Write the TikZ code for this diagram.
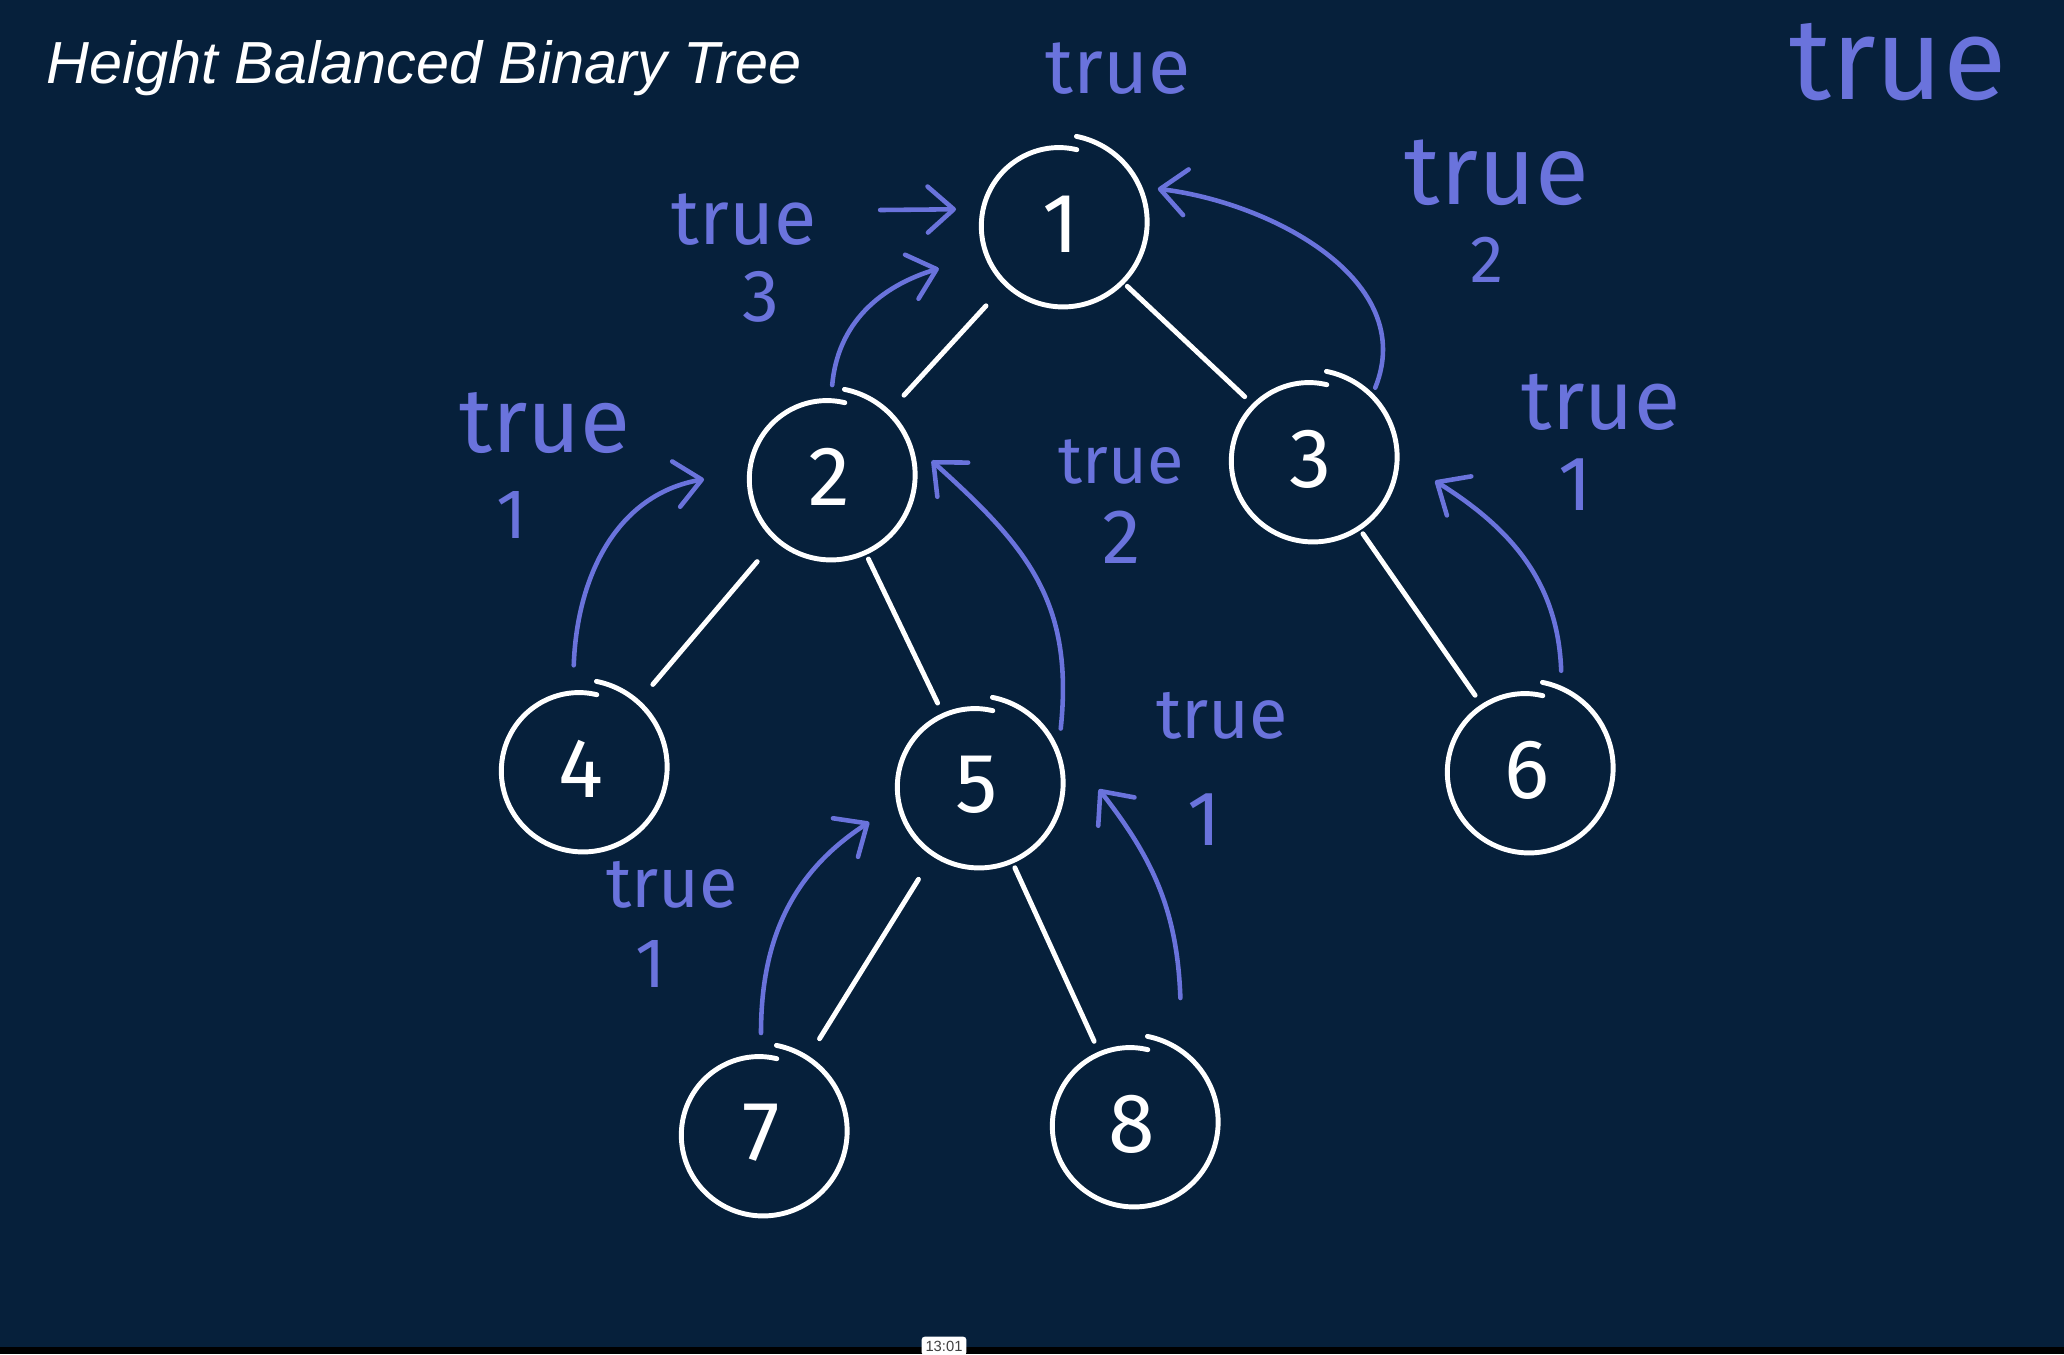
\documentclass[tikz,border=0pt]{standalone}
\usepackage{fontspec}
\setmainfont{Liberation Sans}
\newfontfamily\penfont{Fira Sans}
\usetikzlibrary{arrows.meta, positioning, calc}
\definecolor{bgnavy}{RGB}{6,32,59}
\definecolor{penblue}{RGB}{106,115,220}
\newcommand{\pensize}[1]{\penfont\fontsize{#1}{#1}\selectfont}

\begin{document}
\begin{tikzpicture}[x=0.1mm, y=-0.1mm,
  vertex/.style={circle, minimum size=16.8mm, inner sep=0pt, outer sep=0pt,
    text=white, font=\pensize{24}},
  ring/.style={draw=white, line width=1.4pt, line cap=round, line join=round},
  branch/.style={draw=white, line width=1.4pt, line cap=round,
    shorten <=0.7mm, shorten >=0.7mm},
  far/.style={shorten <=2.7mm, shorten >=2.7mm},
  retval/.style={draw=penblue, line width=1.3pt, line cap=round,
    -{Straight Barb[length=2.6mm, width=4.6mm, round]}},
  inked/.style={text=penblue, inner sep=0pt, font=\pensize{#1}},
  heading/.style={text=white, inner sep=0pt, font=\itshape\fontsize{16.9}{20}\selectfont},
  stamp/.style={fill=white, rounded corners=1pt, text=black!75, inner sep=0.4mm,
    minimum width=4.1mm, minimum height=1.9mm, font=\fontsize{4.2}{5}\selectfont}]
  \fill[bgnavy] (0,0) rectangle (2064,1354);
  \fill[black] (0,1347) rectangle (2064,1354);
  \useasboundingbox (0,0) rectangle (2064,1354);
  \node[stamp] (clock) at (944,1346) {13:01};
  \node[heading, anchor=base west] (title) at (46,83) {Height Balanced Binary Tree};

  \node[vertex] (n1) at (1061,224) {1};
  \node[vertex] (n2) at (829,477)  {2};
  \node[vertex] (n3) at (1311,459) {3};
  \node[vertex] (n4) at (581,769)  {4};
  \node[vertex] (n5) at (977,785)  {5};
  \node[vertex] (n6) at (1527,770) {6};
  \node[vertex] (n7) at (761,1133) {7};
  \node[vertex] (n8) at (1132,1124) {8};
  \foreach \v in {1,...,8}
    \draw[ring, shift={(n\v.center)}]
      plot[smooth, samples=80, domain=80:-282] (\x:{(89-13*(80-\x)/362)*0.1mm});

  \draw[branch, far] (n1) -- (n2);
  \draw[branch] (n1) -- (n3);
  \draw[branch, far] (n2) -- (n4);
  \draw[branch] (n2) -- (n5);
  \draw[branch] (n3) -- (n6);
  \draw[branch, far] (n5) -- (n7);
  \draw[branch] (n5) -- (n8);

  \node[inked=22] (bal1) at (1118,69)  {true};
  \node[inked=22] (bal2) at (744,220)  {true};
  \node[inked=21] (ht2)  at (761,297)  {3};
  \node[inked=28] (bal3) at (1497,173) {true};
  \node[inked=19] (ht3)  at (1487,260) {2};
  \node[inked=26] (bal4) at (545,423)  {true};
  \node[inked=20] (ht4)  at (512,515)  {1};
  \node[inked=19] (bal5) at (1121,462) {true};
  \node[inked=22] (ht5)  at (1122,537) {2};
  \node[inked=24] (bal6) at (1601,402) {true};
  \node[inked=22] (ht6)  at (1575,485) {1};
  \node[inked=20] (bal7) at (1222,716) {true};
  \node[inked=22] (ht7)  at (1204,820) {1};
  \node[inked=20] (bal8) at (672,885)  {true};
  \node[inked=20] (ht8)  at (651,964)  {1};
  \node[inked=33] (bal9) at (1898,62)  {true};

  \draw[retval] ([xshift=6.3mm, yshift=1.0mm]bal2.east) -- ([shift={(172:10.6mm)}]n1.center);
  \draw[retval] ([shift={(88:9.2mm)}]n2.center) to[out=85, in=197] ([shift={(200:13mm)}]n1.center);
  \draw[retval] ([shift={(48:9.6mm)}]n3.center) to[out=68, in=-7] ([shift={(20:10.3mm)}]n1.center);
  \draw[retval] ([shift={(94:10.4mm)}]n4.center) to[out=88, in=190] ([shift={(181:12.5mm)}]n2.center);
  \draw[retval] ([shift={(34:10.1mm)}]n5.center) to[out=84, in=-42, looseness=1.1] ([shift={(9:10.4mm)}]n2.center);
  \draw[retval] ([shift={(71:10.5mm)}]n6.center) to[out=92, in=-32] ([shift={(-10:12.6mm)}]n3.center);
  \draw[retval] ([shift={(90:10mm)}]n7.center) to[out=90, in=213] ([shift={(199:11.4mm)}]n5.center);
  \draw[retval] ([shift={(69:13.5mm)}]n8.center) to[out=92, in=-52] ([shift={(-2:12.2mm)}]n5.center);
\end{tikzpicture}
\end{document}
